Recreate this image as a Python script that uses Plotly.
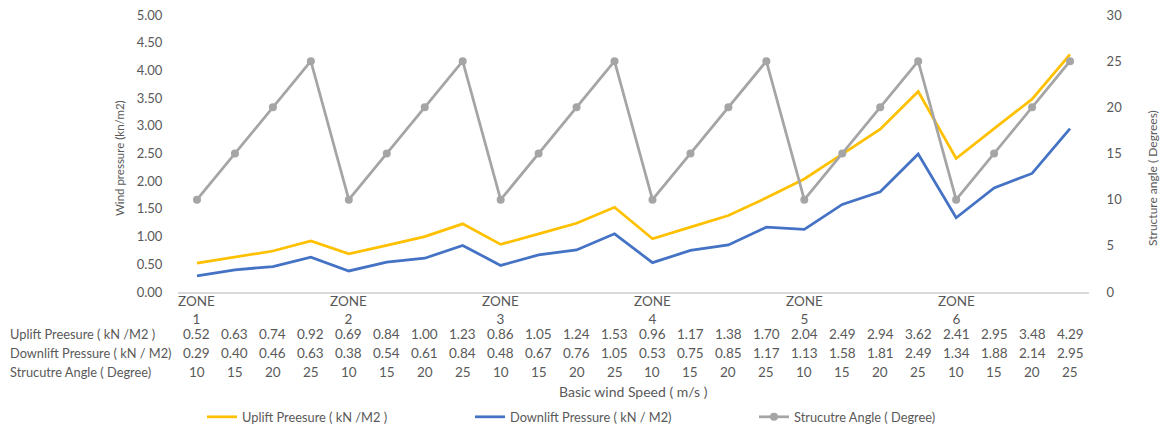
import plotly.graph_objects as go

# Chart data
zones = ["1", "2", "3", "4", "5", "6"]
angles = [10, 15, 20, 25, 10, 15, 20, 25, 10, 15, 20, 25,
          10, 15, 20, 25, 10, 15, 20, 25, 10, 15, 20, 25]
uplift = [0.52, 0.63, 0.74, 0.92, 0.69, 0.84, 1.00, 1.23, 0.86, 1.05, 1.24, 1.53,
          0.96, 1.17, 1.38, 1.70, 2.04, 2.49, 2.94, 3.62, 2.41, 2.95, 3.48, 4.29]
downlift = [0.29, 0.40, 0.46, 0.63, 0.38, 0.54, 0.61, 0.84, 0.48, 0.67, 0.76, 1.05,
            0.53, 0.75, 0.85, 1.17, 1.13, 1.58, 1.81, 2.49, 1.34, 1.88, 2.14, 2.95]
row_names = ["Uplift Preesure ( kN /M2 )", "Downlift Pressure ( kN / M2)",
             "Strucutre Angle ( Degree)"]

W, H = 1164, 429
FONT = "Lato"
GREY = "#595959"
FS = 13.5      # table values
FS_LBL = 12.8  # row labels and legend

x = list(range(len(angles)))

def py(px):
    return 1 - px / H

def pxx(px):
    return px / W

fig = go.Figure()
fig.add_trace(go.Scatter(x=x, y=uplift, mode="lines", name=row_names[0],
                         line=dict(color="#FFC000", width=2.75), legend="legend",
                         showlegend=True))
fig.add_trace(go.Scatter(x=x, y=downlift, mode="lines", name=row_names[1],
                         line=dict(color="#4472C4", width=2.75), legend="legend2",
                         showlegend=True))
fig.add_trace(go.Scatter(x=x, y=angles, mode="lines+markers", name=row_names[2],
                         yaxis="y2", line=dict(color="#A5A5A5", width=2.75),
                         marker=dict(color="#A5A5A5", size=8), legend="legend3",
                         showlegend=True))

ann = []
# Zone labels under the axis
for i, z in enumerate(zones):
    ann.append(dict(x=i * 4, xref="x", y=py(310), yref="paper", text="ZONE<br>" + z,
                    showarrow=False, font=dict(family=FONT, size=FS, color=GREY),
                    yanchor="middle", xanchor="center"))
# Data table rows
rows = [[f"{v:.2f}" for v in uplift], [f"{v:.2f}" for v in downlift], [str(v) for v in angles]]
row_y = [334, 353, 372]
for name, vals, ry in zip(row_names, rows, row_y):
    ann.append(dict(x=pxx(8), xref="paper", y=py(ry), yref="paper", text=name,
                    showarrow=False, xanchor="left", yanchor="middle",
                    font=dict(family=FONT, size=FS_LBL, color=GREY)))
    for i, t in enumerate(vals):
        ann.append(dict(x=i, xref="x", y=py(ry), yref="paper", text=t, showarrow=False,
                        xanchor="center", yanchor="middle",
                        font=dict(family=FONT, size=FS, color=GREY)))
# Axis titles
ann.append(dict(x=pxx(633), xref="paper", y=py(391), yref="paper",
                text="Basic wind Speed ( m/s )", showarrow=False, yanchor="middle",
                xanchor="center", font=dict(family=FONT, size=14, color=GREY)))
ann.append(dict(x=pxx(120), xref="paper", y=py(158), yref="paper",
                text="Wind pressure (kn/m2)", textangle=-90, showarrow=False,
                xanchor="center", yanchor="middle",
                font=dict(family=FONT, size=11.5, color=GREY)))
ann.append(dict(x=pxx(1153), xref="paper", y=py(178), yref="paper",
                text="Structure angle ( Degrees)", textangle=-90, showarrow=False,
                xanchor="center", yanchor="middle",
                font=dict(family=FONT, size=12, color=GREY)))

legend_common = dict(orientation="h", yanchor="middle", xanchor="left",
                     font=dict(family=FONT, size=FS_LBL, color=GREY),
                     bgcolor="rgba(0,0,0,0)", itemwidth=30)

fig.update_layout(
    width=W, height=H,
    margin=dict(l=0, r=0, t=0, b=0, autoexpand=False),
    showlegend=True,
    paper_bgcolor="white", plot_bgcolor="white",
    annotations=ann,
    xaxis=dict(domain=[pxx(178), pxx(1089)], range=[-0.5, 23.5],
               showticklabels=False, ticks="", showgrid=False, zeroline=False,
               showline=True, linecolor="#D9D9D9", linewidth=1.5),
    yaxis=dict(domain=[py(292), py(15)], range=[0, 5], dtick=0.5, tickformat=".2f",
               showgrid=False, zeroline=False, ticks="outside", ticklen=12,
               tickcolor="rgba(0,0,0,0)",
               tickfont=dict(family=FONT, size=13, color=GREY)),
    yaxis2=dict(overlaying="y", side="right", range=[0, 30], dtick=5,
                showgrid=False, zeroline=False, ticks="outside", ticklen=14,
                tickcolor="rgba(0,0,0,0)",
                tickfont=dict(family=FONT, size=13, color=GREY)),
    legend=dict(x=pxx(202), y=py(417), **legend_common),
    legend2=dict(x=pxx(470), y=py(417), **legend_common),
    legend3=dict(x=pxx(754), y=py(417), **legend_common),
)

fig.write_html("out.html")
